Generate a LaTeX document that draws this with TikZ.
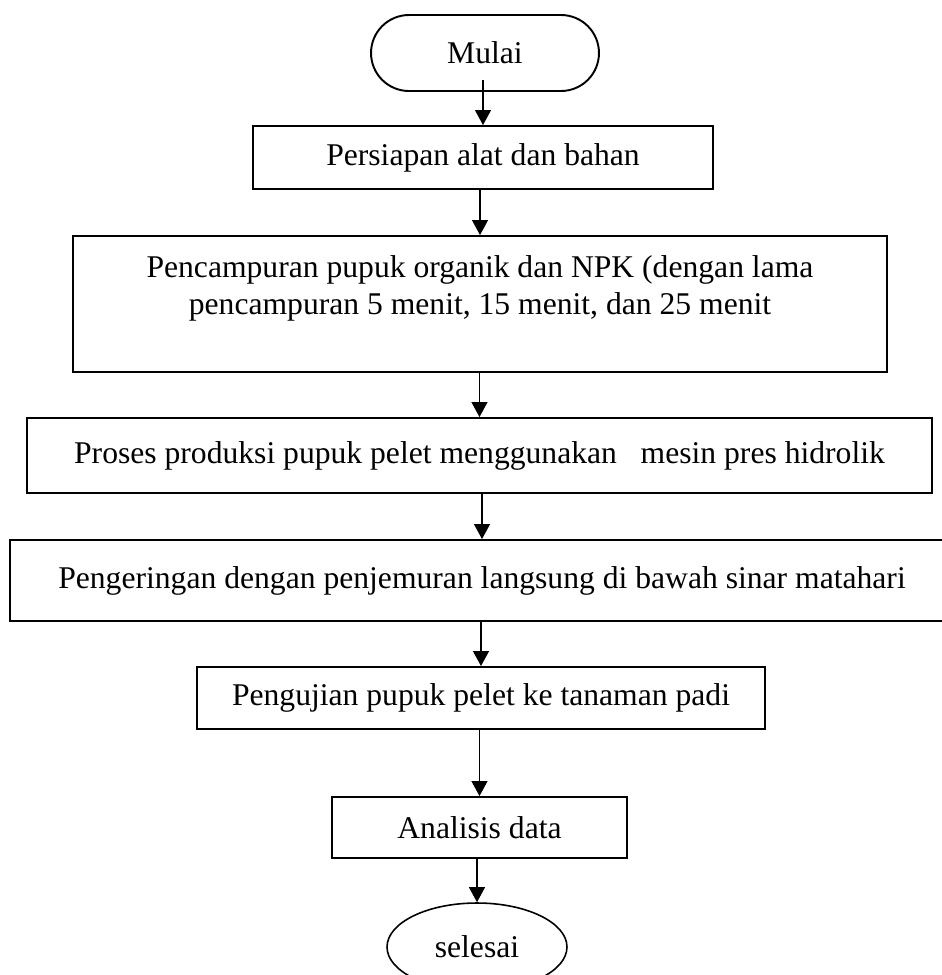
\documentclass[tikz,border=0pt]{standalone}
\usepackage{fontspec}
\setmainfont{Liberation Serif}
\usetikzlibrary{arrows.meta, positioning, shapes.geometric, calc}

\begin{document}
\begin{tikzpicture}[x=0.02cm, y=-0.02cm,
      every node/.style={font=\fontsize{18}{21.6}\selectfont},
      proc/.style={rectangle, draw, line width=1.1pt, inner sep=0pt, align=center},
      term/.style={rectangle, draw, line width=1.1pt, rounded corners=0.76cm, minimum width=4.56cm, minimum height=1.52cm},
      finish/.style={ellipse, draw, line width=0.9pt, inner sep=0pt, minimum width=3.6cm, minimum height=1.76cm},
      arr/.style={-{Triangle[width=0.32cm, length=0.3cm]}, line width=0.6pt}]

      \useasboundingbox (0,0) rectangle (942,975);

      % Blocks
      \node[term] (mulai) at (485,53) {Mulai};
      \node[proc, minimum width=9.2cm, minimum height=1.26cm] (persiapan) at (483,157.5) {Persiapan alat dan bahan};
      \node[proc, minimum width=16.28cm, minimum height=2.72cm] (campur) at (480,304)
        {Pencampuran pupuk organik dan NPK (dengan lama\\pencampuran 5 menit, 15 menit, dan 25 menit\\\mbox{}};
      \node[proc, minimum width=18.1cm, minimum height=1.5cm] (produksi) at (479.5,455.5)
        {Proses produksi pupuk pelet menggunakan\ \ \ mesin pres hidrolik};
      \node[proc, minimum width=18.88cm, minimum height=1.62cm] (kering) at (482,580.5)
        {Pengeringan dengan penjemuran langsung di bawah sinar matahari};
      \node[proc, minimum width=11.36cm, minimum height=1.24cm] (uji) at (481,698) {Pengujian pupuk pelet ke tanaman padi};
      \node[proc, minimum width=5.9cm, minimum height=1.22cm] (analisis) at (479.5,827.5) {Analisis data};
      \node[finish] (selesai) at (477,947) {selesai};

      % Arrows
      \draw[arr] ($(mulai.south -| persiapan.north)+(0,-12)$) -- (persiapan.north);
      \foreach \a/\b in {persiapan/campur, campur/produksi, produksi/kering, kering/uji, uji/analisis, analisis/selesai} {
        \draw[arr] (\a.south -| \b.north) -- (\b.north);
      }
    \end{tikzpicture}
\end{document}
